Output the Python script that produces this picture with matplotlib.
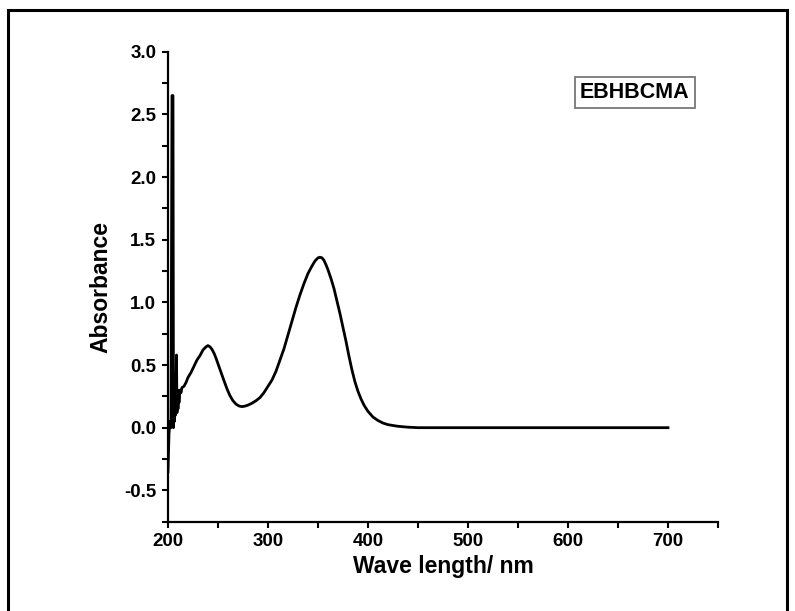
"""UV-Vis absorption spectrum of EBHBCMA."""
import matplotlib; matplotlib.use('Agg')
import matplotlib.pyplot as plt
from matplotlib.patches import Rectangle
from matplotlib.ticker import MultipleLocator

plt.rcParams.update({"font.family": ["Liberation Sans", "DejaVu Sans"],
                     "font.weight": "bold", "font.size": 13.5})

# --- spectrum ---
wavelength = [200, 201, 202, 203, 204, 205, 205.5, 206, 206.5, 207, 207.5, 208, 208.5,
              209, 209.5, 210, 210.5, 211, 212, 213, 214, 216, 218, 220, 223, 226, 229,
              232, 235, 238, 240, 242, 244, 246, 248, 250, 252, 254, 256, 259, 262, 265,
              268, 271, 274, 277, 280, 284, 288, 292, 296, 300, 304, 308, 312, 316, 320,
              324, 328, 332, 336, 340, 344, 347, 350, 352, 354, 356, 358, 360, 363, 366,
              369, 372, 375, 378, 381, 384, 387, 390, 393, 396, 400, 405, 410, 415, 420,
              430, 440, 450, 500, 600, 700]
absorbance = [-0.35, -0.05, 0.05, 0.0, 2.65, 2.65, 0.0, 0.2, 0.05, 0.25, 0.1, 0.3, 0.58,
              0.12, 0.3, 0.15, 0.28, 0.2, 0.30, 0.28, 0.32, 0.33, 0.36, 0.40, 0.44, 0.49,
              0.54, 0.575, 0.62, 0.645, 0.655, 0.645, 0.625, 0.595, 0.555, 0.51, 0.465,
              0.42, 0.375, 0.31, 0.255, 0.215, 0.188, 0.173, 0.168, 0.172, 0.18, 0.195,
              0.215, 0.24, 0.28, 0.33, 0.38, 0.45, 0.54, 0.63, 0.74, 0.85, 0.96, 1.06,
              1.15, 1.23, 1.29, 1.33, 1.355, 1.36, 1.355, 1.335, 1.30, 1.26, 1.19, 1.11,
              1.01, 0.91, 0.80, 0.69, 0.57, 0.46, 0.365, 0.29, 0.23, 0.18, 0.13, 0.085,
              0.057, 0.037, 0.024, 0.011, 0.004, 0.0, 0.0, 0.0, 0.0]
sample = 'EBHBCMA'

fig = plt.figure(figsize=(7.95, 6.11), dpi=100)
ax = fig.add_axes([0.2113, 0.1462, 0.6918, 0.7692])

ax.plot(wavelength, absorbance, color='black', lw=2.0, solid_joinstyle='round')

ax.set_xlim(200, 750)
ax.set_ylim(-0.75, 3.0)
ax.xaxis.set_major_locator(MultipleLocator(100))
ax.xaxis.set_minor_locator(MultipleLocator(50))
ax.yaxis.set_major_locator(MultipleLocator(0.5))
ax.yaxis.set_minor_locator(MultipleLocator(0.25))
ax.yaxis.set_major_formatter(plt.FormatStrFormatter('%.1f'))
ax.tick_params(which='both', direction='out', width=1.5, length=4.5, pad=4)
for s in ['top', 'right']:
    ax.spines[s].set_visible(False)
for s in ['left', 'bottom']:
    ax.spines[s].set_linewidth(1.6)

ax.set_xlabel('Wave length/ nm', fontsize=16.5, fontweight='bold', labelpad=3)
ax.set_ylabel('Absorbance', fontsize=16.5, fontweight='bold', labelpad=8)

ax.text(0.849, 0.913, sample, transform=ax.transAxes, ha='center', va='center',
        fontsize=15.5, fontweight='bold',
        bbox=dict(boxstyle='square,pad=0.25', facecolor='white', edgecolor='#777777', lw=1.3))

# outer frame around the whole picture
fig.patches.append(Rectangle((8/795, -0.02), 779/795, 1.02 - 10/611,
                             transform=fig.transFigure, fill=False, lw=2.2,
                             edgecolor='black'))

fig.savefig('out.png', dpi=100, facecolor='white')
